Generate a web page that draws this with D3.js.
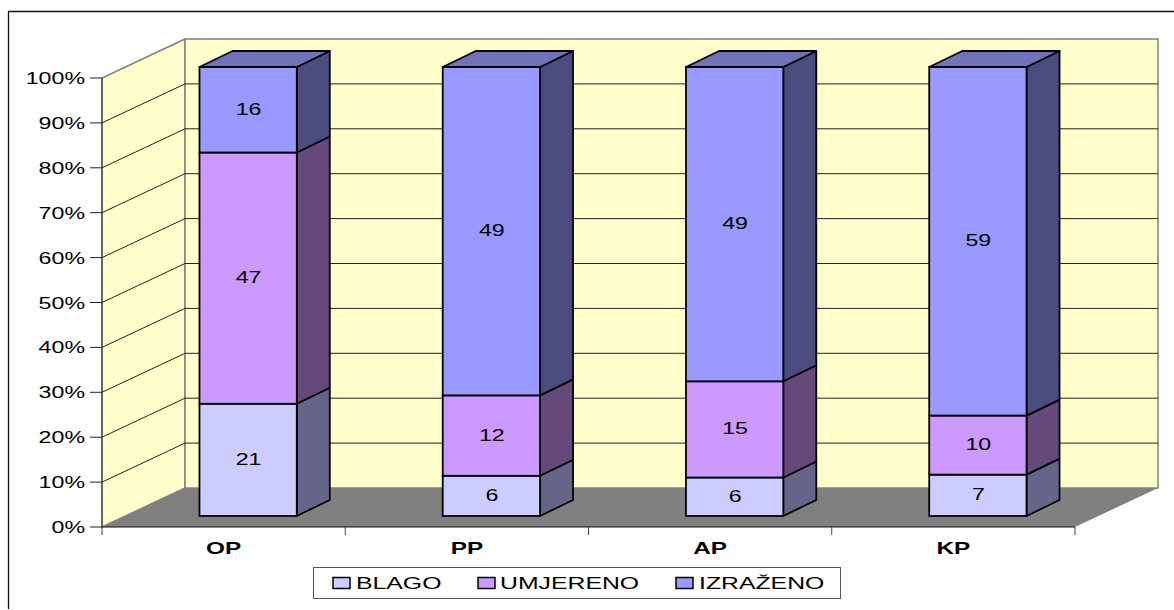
<!DOCTYPE html>
<html><head><meta charset="utf-8">
<script src="https://d3js.org/d3.v7.min.js"></script>
<style>html,body{margin:0;padding:0;background:#fff;overflow:hidden}svg{display:block}text{font-family:"Liberation Sans",Arial,sans-serif}</style>
</head><body><svg id="c" width="1174" height="610"></svg>
<script>
const categories = ["OP","PP","AP","KP"];
const seriesNames = ["BLAGO","UMJERENO","IZRAŽENO"];
const blago = [21,6,6,7];
const umjereno = [47,12,15,10];
const izrazeno = [16,49,49,59];
const seriesValues = [blago,umjereno,izrazeno];
const tickLabels = ["0%","10%","20%","30%","40%","50%","60%","70%","80%","90%","100%"];
const frontColors = ["#ccccff","#cc99ff","#9999ff"];
const sideColors = ["#65658a","#65497a","#4c4c80"];
const topColor = "#7272b8";

const svg = d3.select("#c");
const x = d3.scaleBand().domain(categories).range([102,1075]).paddingInner(0).paddingOuter(0);
const y = d3.scaleLinear().domain([0,1]).range([527,78]);
const depth = {dx:83, dy:-39};
const barOff = {dx:24.5, dy:-11};
const barD = {dx:33, dy:-16};
const barW = x.bandwidth()*0.4;
const pts = a => a.map(p=>p.join(",")).join(" ");

// Wide text: the original's glyphs are stretched horizontally
function wideText(parent,tx,ty,str,opts){
  const sx=opts.sx||1.45;
  return parent.append("text")
    .attr("transform",`translate(${tx},${ty}) scale(${sx},1)`)
    .attr("text-anchor",opts.anchor||"middle")
    .attr("font-size",opts.size||16)
    .attr("font-weight",opts.weight||"normal")
    .attr("fill","#000").text(str);
}

svg.append("polyline").attr("points",pts([[8.5,609],[8.5,11.5],[1174,11.5]]))
  .attr("fill","none").attr("stroke","#111").attr("stroke-width",1.3);

const x0=x.range()[0], x1=x.range()[1], y0=y(0), y1=y(1);
// walls
svg.append("polygon").attr("points",pts([[x0,y0],[x0+depth.dx,y0+depth.dy],[x0+depth.dx,y1+depth.dy],[x0,y1]]))
  .attr("fill","#ffffcc").attr("stroke","#808080").attr("stroke-width",1.5);
svg.append("rect").attr("x",x0+depth.dx).attr("y",y1+depth.dy).attr("width",x1-x0).attr("height",y0-y1)
  .attr("fill","#ffffcc").attr("stroke","#808080").attr("stroke-width",1.5);
svg.append("polygon").attr("points",pts([[x0,y0],[x1,y0],[x1+depth.dx,y0+depth.dy],[x0+depth.dx,y0+depth.dy]]))
  .attr("fill","#808080");
// gridlines
d3.range(1,10).forEach(i=>{
  const yy=y(i/10);
  svg.append("polyline").attr("points",pts([[x0,yy],[x0+depth.dx,yy+depth.dy],[x1+depth.dx,yy+depth.dy]]))
    .attr("fill","none").attr("stroke","#222").attr("stroke-width",1);
});
// axes
const axisG = svg.append("g");
axisG.append("line").attr("x1",x0).attr("x2",x0).attr("y1",y1).attr("y2",y0).attr("stroke","#404040").attr("stroke-width",1.2);
axisG.append("line").attr("x1",x0).attr("x2",x1).attr("y1",y0).attr("y2",y0).attr("stroke","#111").attr("stroke-width",1.2);
tickLabels.forEach((t,i)=>{
  const yy=y(i/10);
  axisG.append("line").attr("x1",x0-12).attr("x2",x0).attr("y1",yy).attr("y2",yy).attr("stroke","#222").attr("stroke-width",1);
  wideText(axisG,85,yy+6,t,{anchor:"end"});
});
categories.concat(["end"]).forEach((c,i)=>{
  const xx=x0+i*x.step();
  axisG.append("line").attr("x1",xx).attr("x2",xx).attr("y1",y0).attr("y2",y0+8).attr("stroke","#444").attr("stroke-width",1);
});
categories.forEach(c=>{
  wideText(axisG,x(c)+x.bandwidth()/2,554,c,{weight:"bold",sx:1.52});
});
// bars
categories.forEach((c,ci)=>{
  const total=d3.sum(seriesValues,s=>s[ci]);
  const g=svg.append("g");
  const left=x(c)+(x.bandwidth()-barW)/2+barOff.dx;
  const r=left+barW;
  let cum=0;
  seriesValues.forEach((s,si)=>{
    const a=cum/total, b=(cum+s[ci])/total; cum+=s[ci];
    const yb=y(a)+barOff.dy, yt=y(b)+barOff.dy;
    g.append("polygon").attr("points",pts([[r,yb],[r+barD.dx,yb+barD.dy],[r+barD.dx,yt+barD.dy],[r,yt]]))
      .attr("fill",sideColors[si]).attr("stroke","#000").attr("stroke-width",1.8).attr("stroke-linejoin","round");
    g.append("rect").attr("x",left).attr("y",yt).attr("width",barW).attr("height",yb-yt)
      .attr("fill",frontColors[si]).attr("stroke","#000").attr("stroke-width",1.8);
    if(si===2){
      g.append("polygon").attr("points",pts([[left,yt],[left+barD.dx,yt+barD.dy],[r+barD.dx,yt+barD.dy],[r,yt]]))
        .attr("fill",topColor).attr("stroke","#000").attr("stroke-width",1.8).attr("stroke-linejoin","round");
    }
    wideText(g,left+barW/2+0.5,(yb+yt)/2+5,s[ci],{});
  });
});
// legend
const lg=svg.append("g");
lg.append("rect").attr("x",313.5).attr("y",567.5).attr("width",527).attr("height",31)
  .attr("fill","#fff").attr("stroke","#555").attr("stroke-width",1);
const legendSwatchX=[333,478,676], legendTextX=[356,500,699];
seriesNames.forEach((n,i)=>{
  lg.append("rect").attr("x",legendSwatchX[i]).attr("y",577.5).attr("width",17).attr("height",11)
    .attr("fill",frontColors[i]).attr("stroke","#000").attr("stroke-width",1.5);
  wideText(lg,legendTextX[i],589,n,{anchor:"start",sx:1.55});
});
</script></body></html>
